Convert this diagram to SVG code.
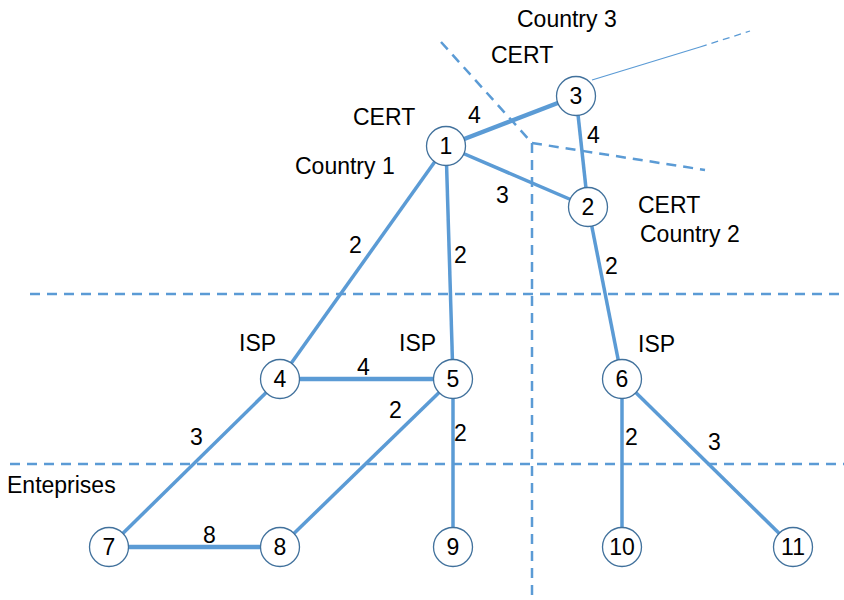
<svg xmlns="http://www.w3.org/2000/svg" width="844" height="600" viewBox="0 0 844 600">
<style>
.bg{fill:#ffffff}
.dash{stroke:#5B9BD5;stroke-width:2.5;stroke-dasharray:10,7;fill:none}
.e{stroke:#5B9BD5;stroke-width:3.5;fill:none}
.ew{stroke:#5B9BD5;stroke-width:4.5;fill:none}
.thin{stroke:#5B9BD5;stroke-width:1.3;fill:none}
.n circle{fill:#ffffff;stroke:#41719C;stroke-width:1.3}
text{font-family:"Liberation Sans","Open Sans",sans-serif;font-size:23px;fill:#000}
.n text{text-anchor:middle}
</style>
<rect class="bg" x="0" y="0" width="844" height="600"/>
<g id="boundaries">
<line class="dash" x1="30" y1="294" x2="844" y2="294"/>
<line class="dash" x1="10" y1="464" x2="844" y2="464"/>
<line class="dash" x1="532" y1="143" x2="532" y2="600"/>
<line class="dash" x1="441" y1="42" x2="532" y2="143"/>
<line class="dash" x1="532" y1="143" x2="705" y2="170"/>
<line class="thin" x1="592" y1="80" x2="700" y2="47"/>
<line class="thin" x1="700" y1="47" x2="750" y2="31" stroke-dasharray="7,5"/>
</g>
<g id="connectors">
<line class="ew" x1="446" y1="146" x2="576" y2="96"/>
<line class="e" x1="576" y1="96" x2="588" y2="207"/>
<line class="e" x1="446" y1="146" x2="588" y2="207"/>
<line class="e" x1="446" y1="146" x2="280" y2="379"/>
<line class="e" x1="446" y1="146" x2="453" y2="379"/>
<line class="e" x1="588" y1="207" x2="622" y2="379"/>
<line class="ew" x1="280" y1="379" x2="453" y2="379"/>
<line class="e" x1="280" y1="379" x2="109" y2="547"/>
<line class="e" x1="453" y1="379" x2="280" y2="547"/>
<line class="e" x1="453" y1="379" x2="453" y2="547"/>
<line class="e" x1="622" y1="379" x2="622" y2="547"/>
<line class="e" x1="622" y1="379" x2="793" y2="547"/>
<line class="ew" x1="109" y1="547" x2="280" y2="547"/>
</g>
<g id="labels">
<text x="517" y="27">Country 3</text>
<text x="491" y="63">CERT</text>
<text x="353" y="125">CERT</text>
<text x="295" y="174">Country 1</text>
<text x="638" y="213">CERT</text>
<text x="640" y="242">Country 2</text>
<text x="239" y="351">ISP</text>
<text x="399" y="351">ISP</text>
<text x="638" y="352">ISP</text>
<text x="7" y="493">Enteprises</text>
<text x="468" y="123">4</text>
<text x="587" y="143">4</text>
<text x="496" y="203">3</text>
<text x="349" y="253">2</text>
<text x="454" y="263">2</text>
<text x="605" y="274">2</text>
<text x="357" y="375">4</text>
<text x="389" y="418">2</text>
<text x="454" y="441">2</text>
<text x="190" y="445">3</text>
<text x="625" y="445">2</text>
<text x="708" y="450">3</text>
<text x="203" y="543">8</text>
</g>
<g id="node1" class="n"><circle cx="446" cy="146" r="19.5"/><text x="446" y="154">1</text></g>
<g id="node2" class="n"><circle cx="588" cy="207" r="19.5"/><text x="588" y="215">2</text></g>
<g id="node3" class="n"><circle cx="576" cy="96" r="19.5"/><text x="576" y="104">3</text></g>
<g id="node4" class="n"><circle cx="280" cy="379" r="19.5"/><text x="280" y="387">4</text></g>
<g id="node5" class="n"><circle cx="453" cy="379" r="19.5"/><text x="453" y="387">5</text></g>
<g id="node6" class="n"><circle cx="622" cy="379" r="19.5"/><text x="622" y="387">6</text></g>
<g id="node7" class="n"><circle cx="109" cy="547" r="19.5"/><text x="109" y="555">7</text></g>
<g id="node8" class="n"><circle cx="280" cy="547" r="19.5"/><text x="280" y="555">8</text></g>
<g id="node9" class="n"><circle cx="453" cy="547" r="19.5"/><text x="453" y="555">9</text></g>
<g id="node10" class="n"><circle cx="622" cy="547" r="19.5"/><text x="622" y="555">10</text></g>
<g id="node11" class="n"><circle cx="793" cy="547" r="19.5"/><text x="793" y="555">11</text></g>
</svg>
